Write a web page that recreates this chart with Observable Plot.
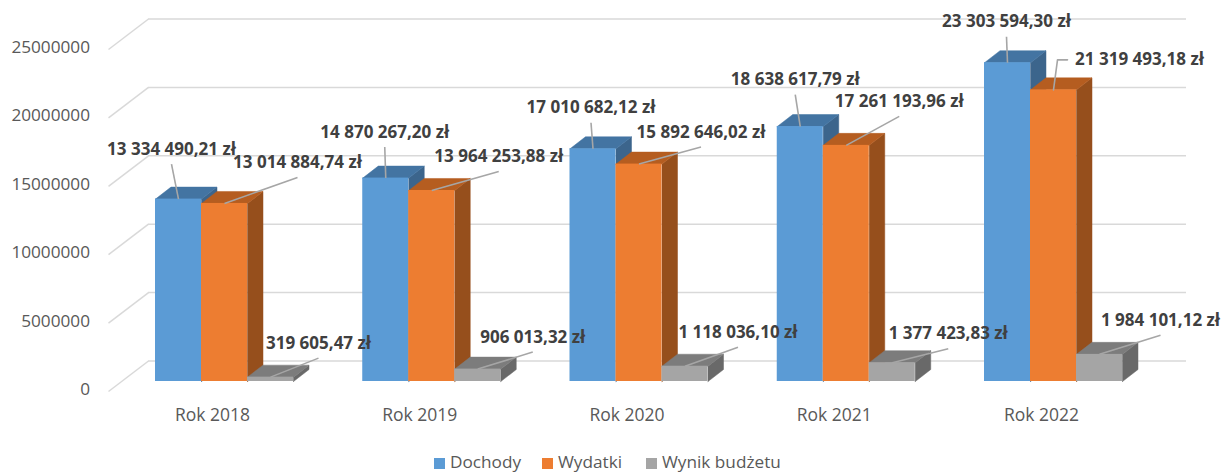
<!DOCTYPE html>
<html lang="pl">
<head>
<meta charset="utf-8">
<script src="https://cdn.jsdelivr.net/npm/d3@7"></script>
<script src="https://cdn.jsdelivr.net/npm/@observablehq/plot@0.6"></script>
<style>
html,body{margin:0;padding:0;background:#fff;overflow:hidden}
#legend{position:relative;height:27px;font:17.2px "Open Sans",sans-serif;color:#595959}
#legend span{position:absolute;top:7px;line-height:20px;white-space:nowrap}
#legend i{position:absolute;top:13px;width:11px;height:11px}
</style>
</head>
<body>
<div id="chart"></div>
<div id="legend"></div>
<script>
// ---- data ----
const categories = ["Rok 2018","Rok 2019","Rok 2020","Rok 2021","Rok 2022"];
const dochody = [13334490.21,14870267.20,17010682.12,18638617.79,23303594.30];
const wydatki = [13014884.74,13964253.88,15892646.02,17261193.96,21319493.18];
const wynik   = [319605.47,906013.32,1118036.10,1377423.83,1984101.12];
const yTicks  = [0,5000000,10000000,15000000,20000000,25000000];

// ---- label layout, pixels relative to the top-centre of the bar's front face ----
const dochodyLabelDx = [-7,-1,-2,-5,-1];
const dochodyLabelDy = [-50,-46,-41,-47,-41];
const wydatkiLabelDx = [73,67,62,53,86];
const wydatkiLabelDy = [-41,-34,-32,-44,-30];
const wynikLabelDx   = [48,55,53,56,61];
const wynikLabelDy   = [-34,-32,-34,-29,-34];

// ---- layout ----
const width = 1224, height = 445;
const left = 155, step = 207.25, base = 381, pxPerM = 13.68;
const barW = 46 / step;
const px = p => p / step;            // horizontal pixels → x units
const py = p => p / pxPerM * 1e6;    // vertical pixels → y units
const depthX = px(15.5), depthY = py(12);

const series = [
  {name:"Dochody", values:dochody, front:"#5B9BD5", top:"#4374A2", side:"#3C658C", ldx:dochodyLabelDx, ldy:dochodyLabelDy},
  {name:"Wydatki", values:wydatki, front:"#ED7D31", top:"#B55D20", side:"#964F1C", ldx:wydatkiLabelDx, ldy:wydatkiLabelDy},
  {name:"Wynik budżetu", values:wynik, front:"#A5A5A5", top:"#7C7C7C", side:"#696969", ldx:wynikLabelDx, ldy:wynikLabelDy}
];

const fmt = v => {
  const [a,b] = v.toFixed(2).split(".");
  return a.replace(/\B(?=(\d{3})+$)/g," ") + "," + b + " zł";
};

const marks = [];

// back wall grid and slanted floor/side lines
const wallL = px(148 - left), wallR = px(1186 - left);
const frontL = px(108 - left);
const wallUp = py(20.5), frontDown = py(10);
marks.push(Plot.ruleY(yTicks.map(v => v + wallUp), {x1: wallL, x2: wallR, stroke:"#d9d9d9", strokeWidth:1.5}));
marks.push(Plot.link(yTicks, {x1: frontL, x2: wallL, y1: v => v - frontDown, y2: v => v + wallUp, stroke:"#d9d9d9", strokeWidth:1.5}));

// bars
series.forEach((s, k) => {
  const rows = s.values.map((v,i) => ({i, v, x1:i + k*barW, x2:i + (k+1)*barW}));
  const top = rows.flatMap(r => [
    {z:r.i,x:r.x1,y:r.v},{z:r.i,x:r.x1+depthX,y:r.v+depthY},
    {z:r.i,x:r.x2+depthX,y:r.v+depthY},{z:r.i,x:r.x2,y:r.v},{z:r.i,x:r.x1,y:r.v}]);
  const side = rows.flatMap(r => [
    {z:r.i,x:r.x2,y:0},{z:r.i,x:r.x2+depthX,y:depthY},
    {z:r.i,x:r.x2+depthX,y:r.v+depthY},{z:r.i,x:r.x2,y:r.v},{z:r.i,x:r.x2,y:0}]);
  marks.push(Plot.line(side,{x:"x",y:"y",z:"z",fill:s.side,stroke:s.side,strokeWidth:0.5}));
  marks.push(Plot.line(top,{x:"x",y:"y",z:"z",fill:s.top,stroke:s.top,strokeWidth:0.5}));
  marks.push(Plot.rect(rows,{x1:"x1",x2:"x2",y1:0,y2:"v",fill:s.front,inset:0}));
});

// leader lines and labels
const leaderColor = "#A6A6A6";
series.forEach((s, k) => {
  const rows = s.values.map((v,i) => {
    const bx = i + (k+0.5)*barW;
    return {v, bx, lx: bx + px(s.ldx[i]), ly: v - py(s.ldy[i])};
  });
  // the last orange label has an elbow leader
  const plain = rows.filter((r,i) => !(k === 1 && i === 4));
  marks.push(Plot.link(plain,{x1:"bx",y1:"v",x2:"lx",y2:d => d.ly - py(15),stroke:leaderColor,strokeWidth:1.6}));
  if (k === 1) {
    const r = rows[4];
    const elbow = [
      {x:r.bx,y:r.v},
      {x:r.bx+px(4),y:r.ly},
      {x:r.bx+px(14),y:r.ly}
    ];
    marks.push(Plot.line(elbow,{x:"x",y:"y",stroke:leaderColor,strokeWidth:1.6}));
  }
  marks.push(Plot.text(rows,{x:"lx",y:"ly",text:d => fmt(d.v),fontSize:17,fontWeight:700,fill:"#404040"}));
});

// axes
marks.push(Plot.axisY(yTicks,{anchor:"left",tickSize:0,tickPadding:0,dy:8,dx:0,tickFormat:d3.format("d"),fontSize:17.2,fill:"#595959",label:null}));
const labelOffset = 57 / step;
marks.push(Plot.axisX(categories.map((_,i) => i + labelOffset),{anchor:"bottom",tickSize:0,tickPadding:0,dy:3,
  tickFormat:v => categories[Math.round(v - labelOffset)],fontSize:17.5,fill:"#595959",label:null}));

const chart = Plot.plot({
  width, height,
  marginLeft:89.5, marginRight:0, marginTop:0, marginBottom:40,
  style:{fontFamily:'"Open Sans",sans-serif',background:"#fff",overflow:"visible"},
  x:{domain:[0,5],range:[left,left+5*step]},
  y:{domain:[0,25000000],range:[base,base-25*pxPerM]},
  marks
});
document.getElementById("chart").append(chart);

// legend below the SVG
const legend = document.getElementById("legend");
const legendX = [434,542,646];
series.forEach((s,k) => {
  const sw = document.createElement("i");
  sw.style.left = legendX[k] + "px";
  sw.style.background = s.front;
  const t = document.createElement("span");
  t.style.left = (legendX[k] + 16) + "px";
  t.textContent = s.name;
  legend.append(sw,t);
});
</script>
</body>
</html>
